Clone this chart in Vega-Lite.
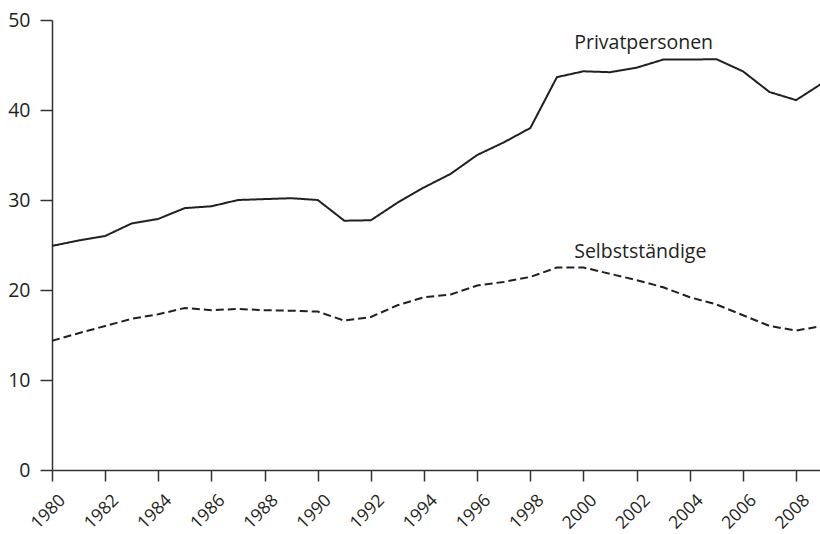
{
  "$schema": "https://vega.github.io/schema/vega-lite/v6.json",
  "width": 768,
  "height": 450,
  "autosize": {"type": "none"},
  "padding": {"left": 52, "top": 20, "right": 0, "bottom": 64},
  "background": "white",
  "config": {"view": {"stroke": null}, "font": "Open Sans"},
  "datasets": {
    "lines": [
      {"year": 1980, "series": "Privatpersonen", "value": 24.9},
      {"year": 1981, "series": "Privatpersonen", "value": 25.5},
      {"year": 1982, "series": "Privatpersonen", "value": 26.0},
      {"year": 1983, "series": "Privatpersonen", "value": 27.4},
      {"year": 1984, "series": "Privatpersonen", "value": 27.9},
      {"year": 1985, "series": "Privatpersonen", "value": 29.1},
      {"year": 1986, "series": "Privatpersonen", "value": 29.3},
      {"year": 1987, "series": "Privatpersonen", "value": 30.0},
      {"year": 1988, "series": "Privatpersonen", "value": 30.1},
      {"year": 1989, "series": "Privatpersonen", "value": 30.2},
      {"year": 1990, "series": "Privatpersonen", "value": 30.0},
      {"year": 1991, "series": "Privatpersonen", "value": 27.7},
      {"year": 1992, "series": "Privatpersonen", "value": 27.75},
      {"year": 1993, "series": "Privatpersonen", "value": 29.7},
      {"year": 1994, "series": "Privatpersonen", "value": 31.4},
      {"year": 1995, "series": "Privatpersonen", "value": 32.9},
      {"year": 1996, "series": "Privatpersonen", "value": 35.0},
      {"year": 1997, "series": "Privatpersonen", "value": 36.4},
      {"year": 1998, "series": "Privatpersonen", "value": 38.0},
      {"year": 1999, "series": "Privatpersonen", "value": 43.65},
      {"year": 2000, "series": "Privatpersonen", "value": 44.3},
      {"year": 2001, "series": "Privatpersonen", "value": 44.2},
      {"year": 2002, "series": "Privatpersonen", "value": 44.7},
      {"year": 2003, "series": "Privatpersonen", "value": 45.6},
      {"year": 2004, "series": "Privatpersonen", "value": 45.6},
      {"year": 2005, "series": "Privatpersonen", "value": 45.65},
      {"year": 2006, "series": "Privatpersonen", "value": 44.3},
      {"year": 2007, "series": "Privatpersonen", "value": 42.0},
      {"year": 2008, "series": "Privatpersonen", "value": 41.1},
      {"year": 2009, "series": "Privatpersonen", "value": 43.0},
      {"year": 1980, "series": "Selbstständige", "value": 14.35},
      {"year": 1981, "series": "Selbstständige", "value": 15.2},
      {"year": 1982, "series": "Selbstständige", "value": 16.0},
      {"year": 1983, "series": "Selbstständige", "value": 16.8},
      {"year": 1984, "series": "Selbstständige", "value": 17.3},
      {"year": 1985, "series": "Selbstständige", "value": 18.0},
      {"year": 1986, "series": "Selbstständige", "value": 17.75},
      {"year": 1987, "series": "Selbstständige", "value": 17.9},
      {"year": 1988, "series": "Selbstständige", "value": 17.75},
      {"year": 1989, "series": "Selbstständige", "value": 17.7},
      {"year": 1990, "series": "Selbstständige", "value": 17.6},
      {"year": 1991, "series": "Selbstständige", "value": 16.6},
      {"year": 1992, "series": "Selbstständige", "value": 17.0},
      {"year": 1993, "series": "Selbstständige", "value": 18.3},
      {"year": 1994, "series": "Selbstständige", "value": 19.2},
      {"year": 1995, "series": "Selbstständige", "value": 19.5},
      {"year": 1996, "series": "Selbstständige", "value": 20.5},
      {"year": 1997, "series": "Selbstständige", "value": 20.9},
      {"year": 1998, "series": "Selbstständige", "value": 21.45},
      {"year": 1999, "series": "Selbstständige", "value": 22.5},
      {"year": 2000, "series": "Selbstständige", "value": 22.5},
      {"year": 2001, "series": "Selbstständige", "value": 21.8},
      {"year": 2002, "series": "Selbstständige", "value": 21.1},
      {"year": 2003, "series": "Selbstständige", "value": 20.3},
      {"year": 2004, "series": "Selbstständige", "value": 19.2},
      {"year": 2005, "series": "Selbstständige", "value": 18.4},
      {"year": 2006, "series": "Selbstständige", "value": 17.2},
      {"year": 2007, "series": "Selbstständige", "value": 16.0},
      {"year": 2008, "series": "Selbstständige", "value": 15.5},
      {"year": 2009, "series": "Selbstständige", "value": 16.0}
    ],
    "labels": [
      {"year": 1999.65, "value": 46.8, "label": "Privatpersonen"},
      {"year": 1999.65, "value": 23.6, "label": "Selbstständige"}
    ]
  },
  "layer": [
    {
      "data": {"name": "lines"},
      "mark": {"type": "line", "clip": true, "color": "#231f20", "strokeWidth": 2},
      "encoding": {
        "x": {
          "field": "year",
          "type": "quantitative",
          "scale": {"domain": [1980, 2008.9], "nice": false, "zero": false},
          "axis": {
            "title": null,
            "grid": false,
            "values": [1980, 1982, 1984, 1986, 1988, 1990, 1992, 1994, 1996, 1998, 2000, 2002, 2004, 2006, 2008],
            "format": "d",
            "labelAngle": -45,
            "labelAlign": "right",
            "labelBaseline": "top",
            "labelPadding": 10,
            "labelOffset": 4,
            "labelFontSize": 17.5,
            "labelColor": "#231f20",
            "labelFont": "Open Sans",
            "tickSize": 11,
            "tickColor": "#333333",
            "tickWidth": 1.5,
            "domainColor": "#333333",
            "domainWidth": 1.5,
            "labelOverlap": false
          }
        },
        "y": {
          "field": "value",
          "type": "quantitative",
          "scale": {"domain": [0, 50], "nice": false},
          "axis": {
            "title": null,
            "grid": false,
            "values": [0, 10, 20, 30, 40, 50],
            "labelPadding": 10,
            "labelFontSize": 19.5,
            "labelColor": "#231f20",
            "labelFont": "Open Sans",
            "tickSize": 12,
            "tickColor": "#333333",
            "tickWidth": 1.5,
            "domainColor": "#333333",
            "domainWidth": 1.5
          }
        },
        "strokeDash": {
          "field": "series",
          "type": "nominal",
          "scale": {"domain": ["Privatpersonen", "Selbstständige"], "range": [[1, 0], [8, 4]]},
          "legend": null
        }
      }
    },
    {
      "data": {"name": "labels"},
      "mark": {"type": "text", "align": "left", "baseline": "alphabetic", "fontSize": 19.5, "font": "Open Sans", "color": "#231f20"},
      "encoding": {
        "x": {"field": "year", "type": "quantitative"},
        "y": {"field": "value", "type": "quantitative"},
        "text": {"field": "label"}
      }
    }
  ]
}
